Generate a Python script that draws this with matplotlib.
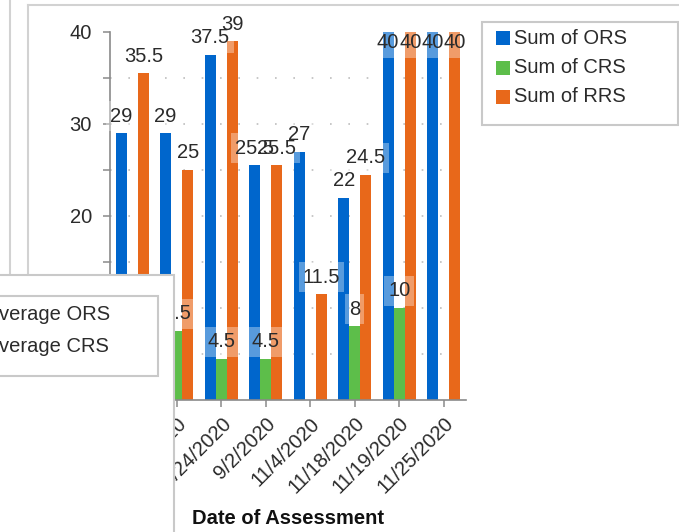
import matplotlib
matplotlib.use('Agg')
import matplotlib.pyplot as plt
from matplotlib.patches import Rectangle
from matplotlib.lines import Line2D
import numpy as np

plt.rcParams['font.family'] = ['Liberation Sans', 'DejaVu Sans']

# ---- data ----
dates = ["8/10/2020", "8/17/2020", "8/24/2020", "9/2/2020",
         "11/4/2020", "11/18/2020", "11/19/2020", "11/25/2020"]
ors = [29, 29, 37.5, 25.5, 27, 22, 40, 40]
crs = [5, 7.5, 4.5, 4.5, None, 8, 10, None]
rrs = [35.5, 25, 39, 25.5, 11.5, 24.5, 40, 40]
series_names = ["Sum of ORS", "Sum of CRS", "Sum of RRS"]
overlay_names = ["Average ORS", "Average CRS"]
x_title = "Date of Assessment"
y_ticks = [0, 10, 20, 30, 40]
y_minor = [5, 15, 25, 35]

colors = ["#0066CC", "#5DBE4A", "#E8681A"]
TXT = "#2b2b2b"
GRAY = "#c9c9c9"
AX = "#8a8a8a"
FS = 14.5

W, H = 679, 532
fig = plt.figure(figsize=(W / 100, H / 100), dpi=100)


def fx(px):
    return px / W


def fy(py):
    return 1 - py / H


# background frame lines from the surrounding page
for xs, ys in [([10, 10], [0, 540]), ([28, 28], [5, 540]), ([28, 690], [5, 5])]:
    fig.add_artist(Line2D([fx(v) for v in xs], [fy(v) for v in ys],
                          color="#d2d2d2", lw=1.5, zorder=0))

ax = fig.add_axes([fx(110), fy(400), fx(466) - fx(110), (400 - 32) / H])
x = np.arange(len(dates))
width = 0.25
y_max = max(y_ticks)

texts = []
for i, (vals, c) in enumerate(zip([ors, crs, rrs], colors)):
    v = np.array([np.nan if a is None else a for a in vals], dtype=float)
    ax.bar(x + (i - 1) * width, v, width, color=c, zorder=2, linewidth=0)
    for xi, val in zip(x + (i - 1) * width, vals):
        if val is None:
            continue
        off = -11 if val >= y_max else 17
        t = ax.annotate(f"{val:g}", xy=(xi, val), xytext=(0, off * 0.72),
                        textcoords="offset points", ha="center", va="center",
                        fontsize=FS, color=TXT, zorder=5, annotation_clip=False)
        texts.append(t)

ax.set_xlim(-0.5, len(dates) - 0.5)
ax.set_ylim(0, y_max)
ax.hlines(y_minor + y_ticks[1:-1], -0.5, len(dates) - 0.5, colors="#bdbdbd",
          linestyles=(0, (1, 10)), linewidth=1.2, zorder=1)

ax.set_yticks(y_ticks)
ax.set_yticks(y_minor, minor=True)
ax.set_xticks(x)
ax.set_xticklabels(dates, rotation=45, ha="right", rotation_mode="anchor")
ax.tick_params(axis="both", which="both", length=5, width=1.1, color=AX,
               labelcolor=TXT, labelsize=FS)
ax.tick_params(axis="y", pad=8)
ax.tick_params(axis="x", pad=5)
for s in ["top", "right"]:
    ax.spines[s].set_visible(False)
for s in ["left", "bottom"]:
    ax.spines[s].set_color(AX)
    ax.spines[s].set_linewidth(1.2)

fig.text(fx(288), fy(519), x_title, ha="center", va="center",
         fontsize=14.5, fontweight="bold", color="#111111")

# semi-transparent white boxes behind data labels
fig.canvas.draw()
r = fig.canvas.get_renderer()
inv = fig.transFigure.inverted()
for t in texts:
    bb = t.get_window_extent(r)
    cy = (bb.y0 + bb.y1) / 2
    (x0, y0) = inv.transform((bb.x0 - 4, cy - 15))
    (x1, y1) = inv.transform((bb.x1 + 4, cy + 15))
    ax.add_patch(Rectangle((x0, y0), x1 - x0, y1 - y0, transform=fig.transFigure,
                           facecolor="white", alpha=0.35, edgecolor="none",
                           zorder=4, clip_on=False))

# right legend
fig.add_artist(Rectangle((fx(482), fy(125)), fx(678) - fx(482), (125 - 22) / H,
                         facecolor="white", edgecolor=GRAY, lw=1.5, zorder=10))
for k, (name, c) in enumerate(zip(series_names, colors)):
    cy = 38 + k * 29.5
    fig.add_artist(Rectangle((fx(496), fy(cy + 7)), 14 / W, 14 / H,
                             facecolor=c, edgecolor="none", zorder=11))
    fig.text(fx(514), fy(cy), name, ha="left", va="center", fontsize=FS,
             color=TXT, zorder=12)

# overlapping panel from another chart (bottom-left)
fig.add_artist(Rectangle((fx(-6), fy(540)), fx(174) - fx(-6), (540 - 275) / H,
                         facecolor="white", edgecolor=GRAY, lw=1.5, zorder=20))
fig.add_artist(Rectangle((fx(-10), fy(376)), fx(158) - fx(-10), (376 - 296) / H,
                         facecolor="white", edgecolor=GRAY, lw=1.5, zorder=21))
for k, name in enumerate(overlay_names):
    fig.text(fx(-14.5), fy(314 + k * 33), name, ha="left", va="center",
             fontsize=FS, color=TXT, zorder=22)

fig.savefig("out.png", dpi=100)
